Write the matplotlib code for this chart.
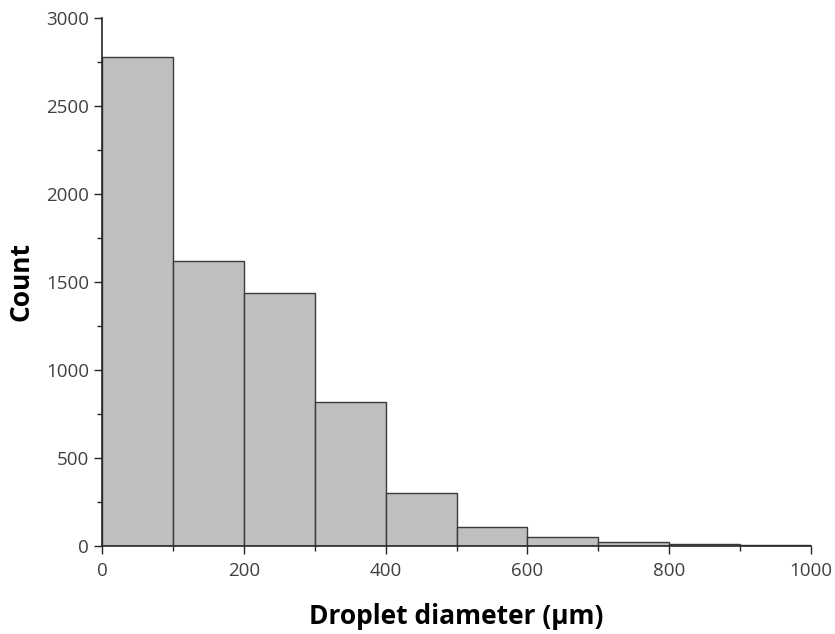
import matplotlib
matplotlib.use("Agg")
import matplotlib.pyplot as plt
import numpy as np

# bin edges (µm) and counts
bin_edges = [0, 100, 200, 300, 400, 500, 600, 700, 800, 900, 1000]
counts = [2780, 1621, 1435, 818, 300, 106, 51, 23, 8, 5]

plt.rcParams['font.family'] = ['Open Sans', 'DejaVu Sans']

fig = plt.figure(figsize=(8.35, 6.34), dpi=100)
ax = fig.add_axes([0.1222, 0.1393, 0.8491, 0.8323])

left = np.array(bin_edges[:-1])
width = np.diff(bin_edges)
ax.bar(left, counts, width=width, align='edge', color='#bfbfbf',
       edgecolor='#3a3a3a', linewidth=1.0)

ax.set_xlim(0, 1000)
ax.set_ylim(0, 3000)
ax.set_xticks([0, 200, 400, 600, 800, 1000])
ax.set_xticks(np.arange(100, 1000, 200), minor=True)
ax.set_yticks(np.arange(0, 3001, 500))
ax.set_yticks(np.arange(250, 3000, 500), minor=True)

for s in ['top', 'right']:
    ax.spines[s].set_visible(False)
for s in ['left', 'bottom']:
    ax.spines[s].set_linewidth(1.2)
    ax.spines[s].set_color('#262626')

ax.tick_params(axis='both', which='major', length=6, width=1.0,
               colors='#262626', labelsize=13.5, labelcolor='#404040')
ax.tick_params(axis='x', which='major', pad=6)
ax.tick_params(axis='both', which='minor', length=3.5, width=1.0,
               colors='#262626')

ax.set_xlabel('Droplet diameter (µm)', fontsize=19, fontweight='bold',
              labelpad=16)
ax.set_ylabel('Count', fontsize=19, fontweight='bold', labelpad=8)

fig.savefig('out.png', dpi=100)
